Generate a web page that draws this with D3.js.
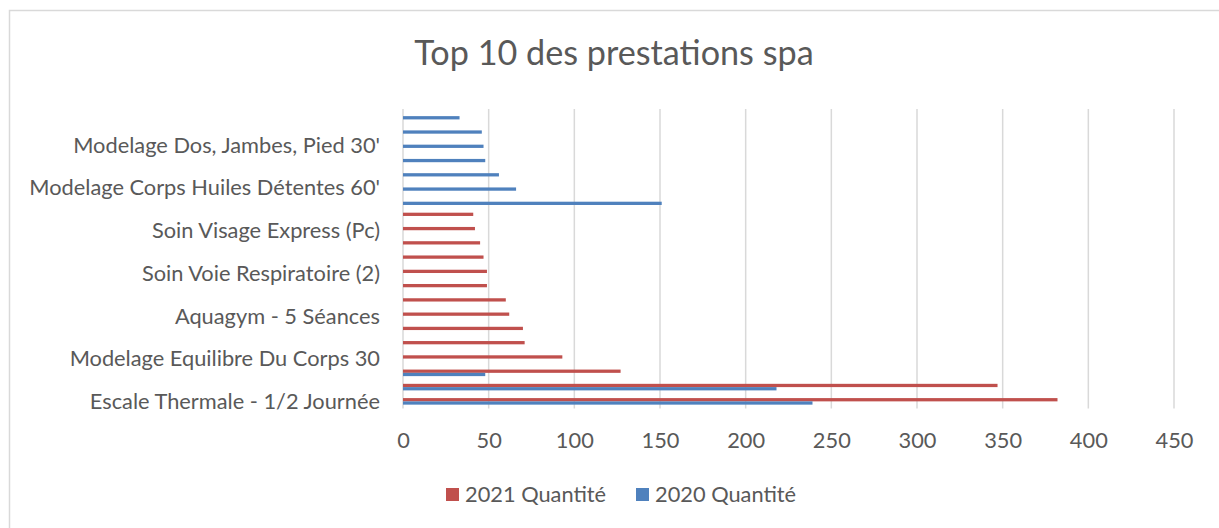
<!DOCTYPE html>
<html>
<head>
<meta charset="utf-8">
<script src="https://cdn.jsdelivr.net/npm/d3@7"></script>
<style>
  html, body { margin: 0; padding: 0; background: #fff; }
  svg { display: block; }
  text { font-family: Lato, "Open Sans", sans-serif; fill: #595959; }
</style>
</head>
<body>
<svg id="chart" width="1219" height="528"></svg>
<script>
// Row labels, bottom row first (only every third row carries a visible label)
const categories = [
  "Escale Thermale - 1/2 Journée", "", "",
  "Modelage Equilibre Du Corps 30", "", "",
  "Aquagym - 5 Séances", "", "",
  "Soin Voie Respiratoire (2)", "", "",
  "Soin Visage Express (Pc)", "", "",
  "Modelage Corps Huiles Détentes 60'", "", "",
  "Modelage Dos, Jambes, Pied 30'", "", ""
];
const series = ["2021 Quantité", "2020 Quantité"];
const values2021 = [382, 347, 127, 93, 71, 70, 62, 60, 49, 49, 47, 45, 42, 41, 0, 0, 0, 0, 0, 0, 0];
const values2020 = [239, 218, 48, 0, 0, 0, 0, 0, 0, 0, 0, 0, 0, 0, 151, 66, 56, 48, 47, 46, 33];
const xTicks = [0, 50, 100, 150, 200, 250, 300, 350, 400, 450];
const colors = ["#C0504D", "#4F81BD"];
const title = "Top 10 des prestations spa";

const svg = d3.select("#chart");
const W = 1219, H = 528;
const plot = { left: 403, right: 1174, top: 109, bottom: 408.5 };
const labelSize = "21.8px";

// chart area border (only top & left visible in the crop)
svg.append("path")
  .attr("d", `M9.5,${H} L9.5,10.5 L${W},10.5`)
  .attr("fill", "none").attr("stroke", "#d9d9d9").attr("stroke-width", 1.5);

// title
svg.append("text")
  .attr("x", 614).attr("y", 65)
  .attr("text-anchor", "middle")
  .style("font-size", "34.2px")
  .text(title);

const x = d3.scaleLinear().domain([0, 450]).range([plot.left, plot.right]);
const idx = d3.range(categories.length);
const y = d3.scaleBand().domain(idx.slice().reverse())
  .range([plot.top, plot.bottom]).paddingInner(0.54).paddingOuter(0.27);
const ySub = d3.scaleBand().domain(series).range([0, y.bandwidth()]);

// gridlines
svg.append("g").selectAll("line").data(xTicks).join("line")
  .attr("x1", d => x(d)).attr("x2", d => x(d))
  .attr("y1", plot.top).attr("y2", plot.bottom)
  .attr("stroke", "#d9d9d9").attr("stroke-width", 1.5);

// x axis labels
const xAxis = d3.axisBottom(x).tickValues(xTicks).tickSize(0).tickPadding(0);
const gx = svg.append("g").attr("transform", `translate(0,${plot.bottom})`).call(xAxis);
gx.select(".domain").remove();
gx.selectAll("text").attr("y", 39.5).attr("dy", 0).style("font-size", labelSize)
  .attr("fill", "#595959");

// y axis labels
const yAxis = d3.axisLeft(y).tickValues(idx.filter(i => categories[i] !== ""))
  .tickFormat(i => categories[i]).tickSize(0).tickPadding(23);
const gy = svg.append("g").attr("transform", `translate(${plot.left},0)`).call(yAxis);
gy.select(".domain").remove();
gy.selectAll("text").style("font-size", labelSize).attr("fill", "#595959").attr("dy", "0.36em");

// bars
const rows = idx.map(i => ({ i, vals: [values2021[i], values2020[i]] }));
const g = svg.append("g");
rows.forEach(r => {
  series.forEach((s, k) => {
    if (r.vals[k] > 0) {
      g.append("rect")
        .attr("x", x(0))
        .attr("y", y(r.i) + ySub(s))
        .attr("width", x(r.vals[k]) - x(0))
        .attr("height", ySub.bandwidth())
        .attr("fill", colors[k]);
    }
  });
});

// legend
const legendItems = [{ label: series[0], color: colors[0], x: 446 }, { label: series[1], color: colors[1], x: 636 }];
const lg = svg.append("g");
legendItems.forEach(it => {
  lg.append("rect").attr("x", it.x).attr("y", 488).attr("width", 13).attr("height", 13).attr("fill", it.color);
  lg.append("text").attr("x", it.x + 19).attr("y", 501.5).style("font-size", labelSize).text(it.label);
});
</script>
</body>
</html>
